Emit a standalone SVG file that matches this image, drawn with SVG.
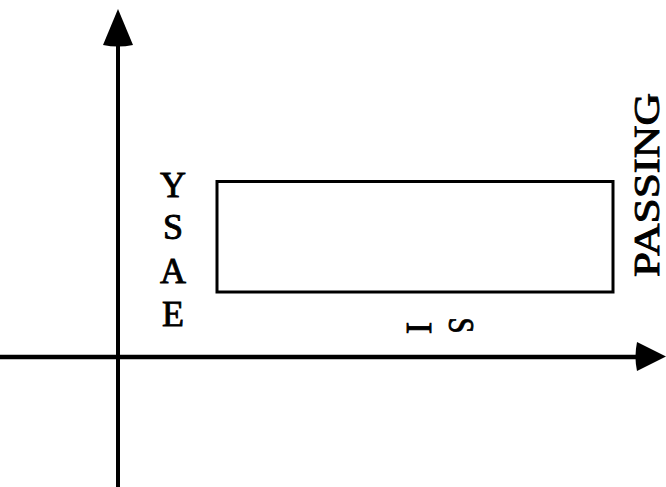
<svg xmlns="http://www.w3.org/2000/svg" width="666" height="487" viewBox="0 0 666 487">
<style>
.ln{stroke:#000;fill:none}
.lbl{font-family:"Liberation Serif","Times New Roman",serif;font-size:36px;fill:#000;stroke:#000;stroke-width:0.9;text-anchor:middle}
</style>
<rect width="666" height="487" fill="#fff"/>
<g id="connectors">
<line class="ln" x1="118" y1="40" x2="118" y2="487" stroke-width="4"/>
<path d="M118,9 L133,45 Q118,48 103,45 Z" fill="#000"/>
<line class="ln" x1="0" y1="357" x2="640" y2="357" stroke-width="4.5"/>
<path d="M666,356.5 L637,371 Q634,356.5 637,342 Z" fill="#000"/>
</g>
<g id="box">
<rect class="ln" x="217" y="181.5" width="396" height="110.5" stroke-width="3"/>
</g>
<g id="label-ysae">
<text class="lbl" x="173" y="197">Y</text>
<text class="lbl" x="173" y="239">S</text>
<text class="lbl" x="173" y="283">A</text>
<text class="lbl" x="173" y="326">E</text>
</g>
<g id="label-is">
<text class="lbl" transform="translate(407,328) rotate(90)">I</text>
<text class="lbl" transform="translate(449,325.5) rotate(90) scale(0.8,1)">S</text>
</g>
<g id="label-passing">
<text class="lbl" transform="translate(659,185) rotate(-90)" textLength="184" lengthAdjust="spacingAndGlyphs">PASSING</text>
</g>
</svg>
